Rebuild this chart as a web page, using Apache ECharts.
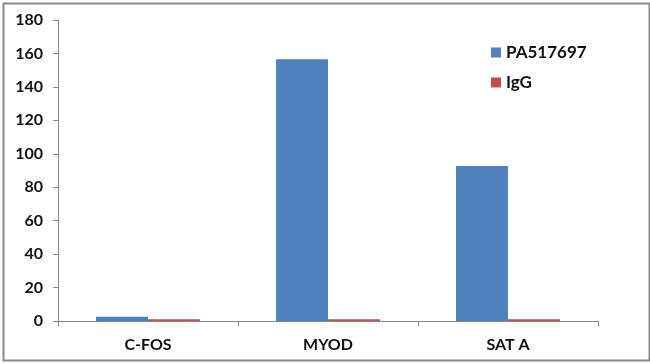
<!DOCTYPE html>
<html><head><meta charset="utf-8">
<script src="https://cdn.jsdelivr.net/npm/echarts@6/dist/echarts.min.js"></script>
<style>html,body{margin:0;padding:0;background:#fff}#c{width:650px;height:363px}</style>
</head><body><div id="c"></div>
<script>
const categories = ['C-FOS', 'MYOD', 'SAT A'];
const pa517697 = [2.6, 156.5, 92.7];
const igg = [1, 1, 1];
const yTicks = [0, 20, 40, 60, 80, 100, 120, 140, 160, 180];

const chart = echarts.init(document.getElementById('c'), null, {renderer: 'canvas'});
const font = 'Lato, "Open Sans", sans-serif';
chart.setOption({
  animation: false,
  backgroundColor: '#fff',
  graphic: [{
    type: 'rect', left: 1, top: 1, shape: {width: 646, height: 357},
    style: {fill: 'none', stroke: '#8a8a8a', lineWidth: 2}, silent: true
  }],
  grid: {left: 58, right: 52, top: 20, bottom: 42, containLabel: false},
  legend: {
    data: [{name: 'PA517697'}, {name: 'IgG'}],
    orient: 'vertical', left: 486, top: 39, itemWidth: 10, itemHeight: 10,
    itemGap: 13, icon: 'rect',
    textStyle: {fontFamily: font, fontSize: 17, fontWeight: 'bold', color: '#111'}
  },
  xAxis: {
    type: 'category', data: categories,
    axisLine: {lineStyle: {color: '#888', width: 1}},
    axisTick: {show: true, length: 5, alignWithLabel: false, lineStyle: {color: '#888'}},
    axisLabel: {fontFamily: font, fontSize: 16, fontWeight: 'bold', color: '#111', margin: 16}
  },
  yAxis: {
    type: 'value', min: yTicks[0], max: yTicks[yTicks.length - 1], interval: 20,
    splitLine: {show: false},
    axisLine: {show: true, lineStyle: {color: '#888', width: 1}},
    axisTick: {show: true, length: 5, lineStyle: {color: '#888'}},
    axisLabel: {fontFamily: font, fontSize: 16, fontWeight: 'bold', color: '#111', margin: 15}
  },
  series: [
    {name: 'PA517697', type: 'bar', data: pa517697, barWidth: 52, barGap: '0%',
     itemStyle: {color: '#4f81bd'}},
    {name: 'IgG', type: 'bar', data: igg, barWidth: 52, barGap: '0%',
     itemStyle: {color: '#c0504d'}}
  ]
});
</script></body></html>
